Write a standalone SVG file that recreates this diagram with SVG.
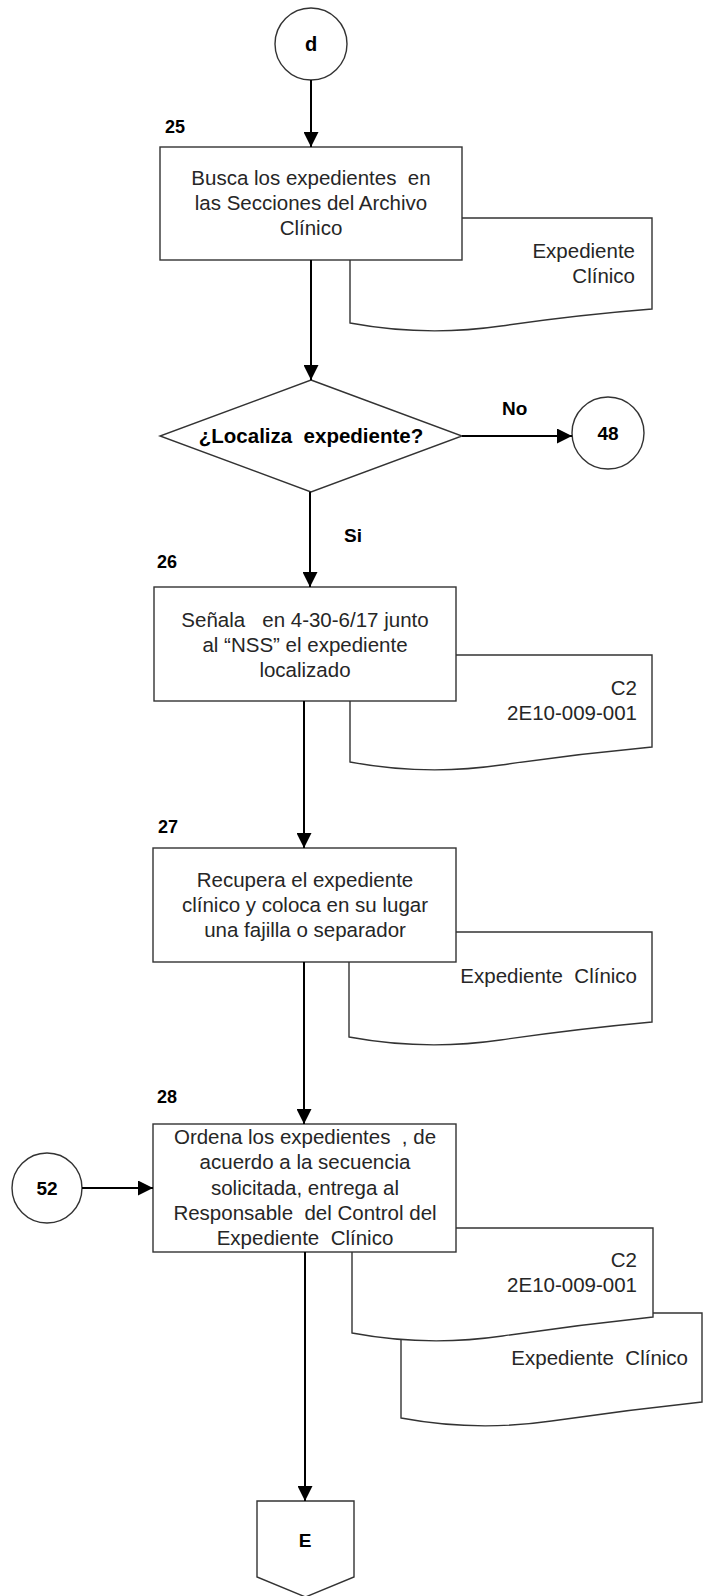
<svg xmlns="http://www.w3.org/2000/svg" width="703" height="1596" viewBox="0 0 703 1596">
<defs>
<marker id="arr" viewBox="0 0 10 10" refX="10" refY="5" markerWidth="15" markerHeight="15" markerUnits="userSpaceOnUse" orient="auto">
<path d="M0,0 L10,5 L0,10 z" fill="#000"/>
</marker>
<style>
.shape{fill:#fff;stroke:#333;stroke-width:1.4}
.t{font-family:"Liberation Sans",Arial,sans-serif;font-size:20.5px;fill:#262626;white-space:pre}
.m{text-anchor:middle}
.r{text-anchor:end}
.b{font-family:"Liberation Sans",Arial,sans-serif;font-weight:bold;fill:#000;white-space:pre}
.conn{stroke:#000;stroke-width:2;fill:none;marker-end:url(#arr)}
</style>
</defs>
<rect width="703" height="1596" fill="#fff"/>

<g id="start-d">
<circle class="shape" cx="311" cy="44" r="36"/>
<text class="b m" x="311" y="51" font-size="20" text-anchor="middle">d</text>
</g>

<g id="doc-25">
<path class="shape" d="M652,218 L350,218 L350,323 Q425.5,337 501,326 T652,309 Z"/>
<text class="t r" x="635" y="258">Expediente</text>
<text class="t r" x="635" y="283">Clínico</text>
</g>

<g id="step-25">
<text class="b" x="165" y="133" font-size="18">25</text>
<rect class="shape" x="160" y="147" width="302" height="113"/>
<text class="t m" x="311" y="185" xml:space="preserve">Busca los expedientes  en</text>
<text class="t m" x="311" y="210">las Secciones del Archivo</text>
<text class="t m" x="311" y="235">Clínico</text>
</g>

<g id="decision">
<path class="shape" d="M311,380 L462,436 L311,492 L160,436 Z"/>
<text class="b m" x="311" y="443" font-size="20.5" text-anchor="middle" xml:space="preserve">¿Localiza  expediente?</text>
</g>

<g id="conn-48">
<circle class="shape" cx="608" cy="433" r="36"/>
<text class="b" x="608" y="440" font-size="19" text-anchor="middle">48</text>
</g>

<g id="doc-26">
<path class="shape" d="M652,655 L350,655 L350,762 Q425.5,776 501,765 T652,747 Z"/>
<text class="t r" x="637" y="695">C2</text>
<text class="t r" x="637" y="720">2E10-009-001</text>
</g>

<g id="step-26">
<text class="b" x="157" y="568" font-size="18">26</text>
<rect class="shape" x="154" y="587" width="302" height="114"/>
<text class="t m" x="305" y="627" xml:space="preserve">Señala   en 4-30-6/17 junto</text>
<text class="t m" x="305" y="652">al “NSS” el expediente</text>
<text class="t m" x="305" y="677">localizado</text>
</g>

<g id="doc-27">
<path class="shape" d="M652,932 L349,932 L349,1037 Q425,1051 500.5,1040 T652,1022 Z"/>
<text class="t r" x="637" y="983" xml:space="preserve">Expediente  Clínico</text>
</g>

<g id="step-27">
<text class="b" x="158" y="833" font-size="18">27</text>
<rect class="shape" x="153" y="848" width="303" height="114"/>
<text class="t m" x="305" y="887">Recupera el expediente</text>
<text class="t m" x="305" y="912">clínico y coloca en su lugar</text>
<text class="t m" x="305" y="937">una fajilla o separador</text>
</g>

<g id="doc-28b">
<path class="shape" d="M702,1313 L401,1313 L401,1418 Q476,1432 551.5,1421 T702,1402 Z"/>
<text class="t r" x="688" y="1365" xml:space="preserve">Expediente  Clínico</text>
</g>

<g id="doc-28a">
<path class="shape" d="M653,1228 L352,1228 L352,1333 Q427,1347 502.5,1336 T653,1317 Z"/>
<text class="t r" x="637" y="1267">C2</text>
<text class="t r" x="637" y="1292">2E10-009-001</text>
</g>

<g id="step-28">
<text class="b" x="157" y="1103" font-size="18">28</text>
<rect class="shape" x="153" y="1124" width="303" height="128"/>
<text class="t m" x="305" y="1144" xml:space="preserve">Ordena los expedientes  , de</text>
<text class="t m" x="305" y="1169">acuerdo a la secuencia</text>
<text class="t m" x="305" y="1195">solicitada, entrega al</text>
<text class="t m" x="305" y="1220" xml:space="preserve">Responsable  del Control del</text>
<text class="t m" x="305" y="1245" xml:space="preserve">Expediente  Clínico</text>
</g>

<g id="conn-52">
<circle class="shape" cx="47" cy="1188" r="35"/>
<text class="b" x="47" y="1195" font-size="19" text-anchor="middle">52</text>
</g>

<g id="offpage-E">
<path class="shape" d="M257,1501 L354,1501 L354,1577 L305.5,1597 L257,1577 Z"/>
<text class="b" x="305" y="1547" font-size="19" text-anchor="middle">E</text>
</g>

<g id="labels">
<text class="b" x="502" y="415" font-size="19">No</text>
<text class="b" x="344" y="542" font-size="19">Si</text>
</g>

<g id="connectors">
<path class="conn" d="M311,80 L311,147"/>
<path class="conn" d="M311,260 L311,380"/>
<path class="conn" d="M462,436 L572,436"/>
<path class="conn" d="M310,492 L310,587"/>
<path class="conn" d="M304,701 L304,848"/>
<path class="conn" d="M304,962 L304,1124"/>
<path class="conn" d="M82,1188 L153,1188"/>
<path class="conn" d="M305,1252 L305,1501"/>
</g>
</svg>
